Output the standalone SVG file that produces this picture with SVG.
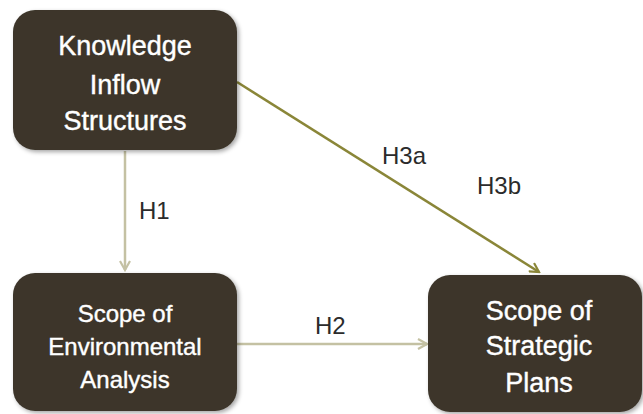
<svg xmlns="http://www.w3.org/2000/svg" width="643" height="414" viewBox="0 0 643 414">
  <defs>
    <filter id="shadow" x="-10%" y="-10%" width="125%" height="125%">
      <feDropShadow dx="2" dy="2" stdDeviation="2" flood-color="#000" flood-opacity="0.35"/>
    </filter>
    <marker id="arrowLight" markerWidth="12" markerHeight="12" refX="10" refY="6" orient="auto" markerUnits="userSpaceOnUse">
      <path d="M1,1 L10,6 L1,11" fill="none" stroke="#c4c1a3" stroke-width="2.2"/>
    </marker>
    <marker id="arrowOlive" markerWidth="12" markerHeight="12" refX="10" refY="6" orient="auto" markerUnits="userSpaceOnUse">
      <path d="M1,1 L10,6 L1,11" fill="none" stroke="#8a8638" stroke-width="2.2"/>
    </marker>
  </defs>
  <style>
    .box { fill: #3d362b; filter: url(#shadow); }
    .node-text { font-family: "Liberation Sans", Arial, sans-serif; fill: #ffffff; text-anchor: middle; stroke: #ffffff; stroke-width: 0.4; }
    .label { font-family: "Liberation Sans", Arial, sans-serif; font-size: 24px; fill: #2b2b2b; }
    .light { stroke: #c4c1a3; stroke-width: 2.5; fill: none; }
    .olive { stroke: #8a8638; stroke-width: 2.5; fill: none; }
  </style>
  <rect width="643" height="414" fill="#ffffff"/>

  <g id="connectors">
    <line class="light" x1="125" y1="151" x2="125" y2="270" marker-end="url(#arrowLight)"/>
    <line class="light" x1="237" y1="344" x2="427" y2="344" marker-end="url(#arrowLight)"/>
    <line class="olive" x1="237" y1="82" x2="539" y2="272" marker-end="url(#arrowOlive)"/>
    <text class="label" x="139" y="219">H1</text>
    <text class="label" x="315" y="334">H2</text>
    <text class="label" x="382" y="164">H3a</text>
    <text class="label" x="477" y="194">H3b</text>
  </g>

  <g id="knowledge-inflow">
    <rect class="box" x="13" y="10" width="224" height="140" rx="22"/>
    <text class="node-text" font-size="27" x="125" y="55">Knowledge</text>
    <text class="node-text" font-size="27" x="125" y="94">Inflow</text>
    <text class="node-text" font-size="27" x="125" y="130">Structures</text>
  </g>

  <g id="environmental-analysis">
    <rect class="box" x="13" y="273" width="224" height="138" rx="22"/>
    <text class="node-text" font-size="24" x="125" y="322">Scope of</text>
    <text class="node-text" font-size="24" x="125" y="355">Environmental</text>
    <text class="node-text" font-size="24" x="125" y="388">Analysis</text>
  </g>

  <g id="strategic-plans">
    <rect class="box" x="428" y="275" width="214" height="137" rx="22"/>
    <text class="node-text" font-size="27" x="539" y="320">Scope of</text>
    <text class="node-text" font-size="27" x="539" y="355">Strategic</text>
    <text class="node-text" font-size="27" x="539" y="392">Plans</text>
  </g>
</svg>
